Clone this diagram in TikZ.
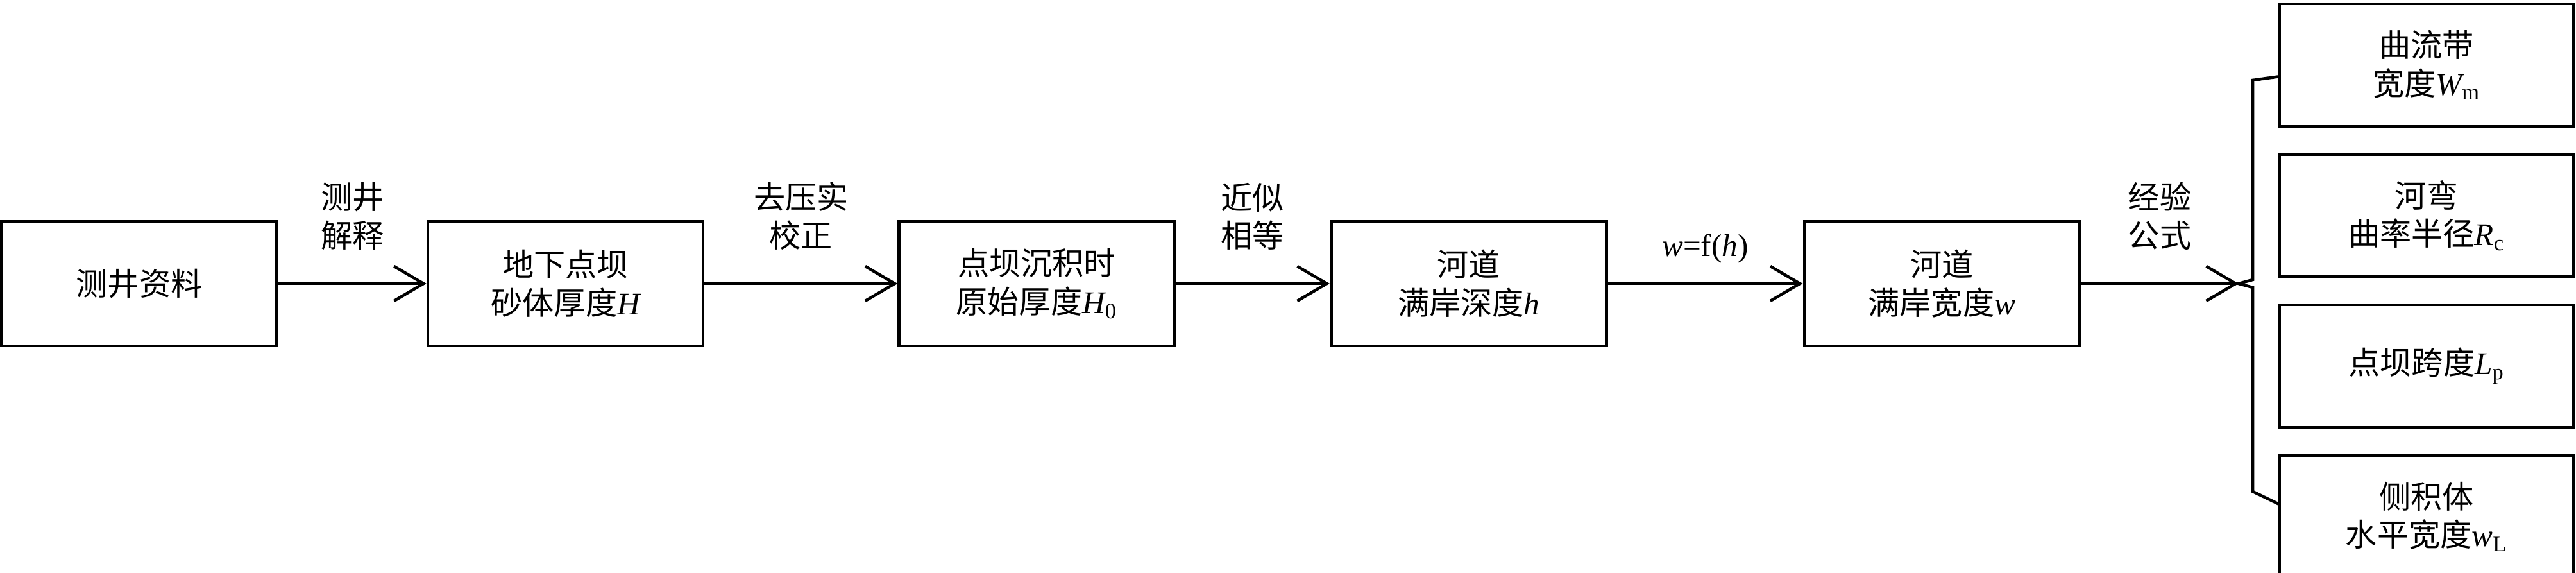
\documentclass[tikz,border=0pt]{standalone}
\usepackage{fontspec}
\setmainfont{Liberation Serif}
\newfontfamily\cjk{Noto Sans CJK SC}
\usetikzlibrary{arrows.meta,positioning}
\newcommand{\va}[1]{{\rmfamily\itshape #1}}
\newcommand{\sbs}[1]{\textsubscript{\rmfamily\upshape #1}}

\begin{document}
\begin{tikzpicture}[x=1mm, y=1mm,
	box/.style={draw, line width=1.3pt, minimum width=42.9mm, minimum height=19.4mm, inner sep=0pt, align=center, font=\cjk\fontsize{14pt}{17pt}\selectfont},
	rbox/.style={box, minimum width=45.8mm, minimum height=19.1mm},
	lbl/.style={inner sep=0pt, align=center, font=\cjk\fontsize{14pt}{17pt}\selectfont},
	flow/.style={-{Straight Barb[length=4.6mm, width=5.4mm]}, line width=1.3pt}
]
\useasboundingbox (0,0) rectangle (401.6,89.3);
% main chain
\node[box] (well) at (21.7,45.1) {测井资料};
\node[box, right=23.1mm of well] (sand) {地下点坝\\砂体厚度\va{H}};
\node[box, right=30.1mm of sand] (orig) {点坝沉积时\\原始厚度\va{H}\sbs{0}};
\node[box, right=24.0mm of orig] (depth) {河道\\满岸深度\va{h}};
\node[box, right=30.4mm of depth] (bank) {河道\\满岸宽度\va{w}};
% results
\node[rbox] (belt) at (378.3,79.15) {曲流带\\宽度\va{W}\sbs{m}};
\node[rbox, below=3.9mm of belt] (bend) {河弯\\曲率半径\va{R}\sbs{c}};
\node[rbox, below=3.9mm of bend] (span) {点坝跨度\va{L}\sbs{p}};
\node[rbox, below=3.9mm of span] (lat) {侧积体\\水平宽度\va{w}\sbs{L}};
% brace
\coordinate (tip) at (349.0,45.1);
\coordinate (bt) at (351.2,76.8);
\coordinate (bb) at (351.2,12.7);
\draw[line width=1.3pt, line join=miter]
	([yshift=-1.8mm]belt.west) -- (bt) -- (351.2,45.7) -- (tip)
	-- (351.2,44.5) -- (bb) -- ([yshift=2mm]lat.west);
\path[flow]
(well) edge node[lbl, above=5mm] {测井\\解释} (sand)
(sand) edge node[lbl, above=5mm] {去压实\\校正} (orig)
(orig) edge node[lbl, above=5mm] {近似\\相等} (depth)
(depth) edge node[lbl, above=3mm] {\rmfamily\va{w}=f(\va{h})} (bank)
(bank) edge node[lbl, above=5mm] {经验\\公式} (tip)
;
\end{tikzpicture}
\end{document}
